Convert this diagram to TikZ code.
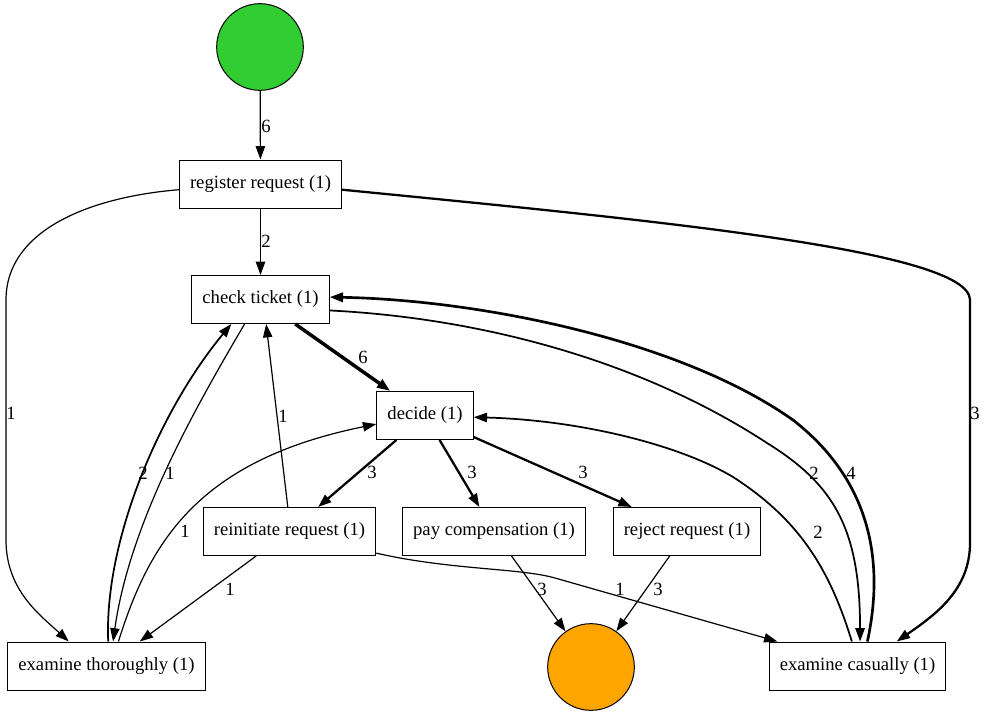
\documentclass[tikz,border=0pt]{standalone}
\usepackage{fontspec}
\setmainfont{Liberation Serif}
\usetikzlibrary{arrows.meta,positioning}
\definecolor{startgreen}{HTML}{32CD32}
\definecolor{endorange}{HTML}{FFA500}

\begin{document}
\begin{tikzpicture}[
  x=0.75pt, y=-0.75pt,
  act/.style={draw, rectangle, line width=0.75pt, fill=white, minimum height=36pt,
              inner xsep=8pt, inner ysep=4pt},
  place/.style={draw, circle, line width=0.75pt, minimum size=65pt, inner sep=0pt},
  arr/.style={-{Triangle[length=10pt,width=7pt]}, line width=0.9pt},
  f2/.style={line width=1.3pt},
  f3/.style={line width=1.7pt},
  f4/.style={line width=2pt},
  f6/.style={line width=2.6pt},
  lbl/.style={inner sep=0pt},
  font=\fontsize{14}{16}\selectfont
]
\fill[white] (0,0) rectangle (986,718);
\useasboundingbox (0,0) rectangle (986,718);

\node[place, fill=startgreen] (start)    at (260,47)    {};
\node[act]                    (register) at (260.5,184) {register request (1)};
\node[act]                    (check)    at (260.5,299.5) {check ticket (1)};
\node[act]                    (decide)   at (425,415.5) {decide (1)};
\node[act]                    (reinit)   at (289.5,531.5) {reinitiate request (1)};
\node[act]                    (pay)      at (494,531.5) {pay compensation (1)};
\node[act]                    (reject)   at (687,531.5) {reject request (1)};
\node[act]                    (thorough) at (106.5,666) {examine thoroughly (1)};
\node[act]                    (casual)   at (857.5,666) {examine casually (1)};
\node[place, fill=endorange]  (end)      at (591,667)   {};

\draw[arr] (start) -- (register) node[lbl] at (266,126) {6};
\draw[arr, f2] (register) -- (check) node[lbl] at (266,241) {2};
\draw[arr] (register.184) .. controls (90,197) and (6,230) .. (6,300) -- (6,540)
  .. controls (6,590) and (40,615) .. (thorough.147) node[lbl] at (11,413) {1};
\draw[arr, f3] (register.356) .. controls (650,220) and (970,250) .. (970,300) -- (970,543)
  .. controls (970,590) and (935,615) .. (casual.32) node[lbl] at (975,413) {3};

\draw[arr, f6] (check) -- (decide) node[lbl] at (363,357) {6};
\draw[arr] (check.237) .. controls (200,400) and (130,520) .. (thorough.75) node[lbl] at (170,473) {1};
\draw[arr, f2] (thorough.86) .. controls (104,540) and (160,410) .. (check.220) node[lbl] at (143,473) {2};
\draw[arr] (thorough.64) .. controls (150,540) and (200,460) .. (decide.190) node[lbl] at (185,531) {1};

\draw[arr] (reinit.94) -- (check.283) node[lbl] at (283,416) {1};
\draw[arr] (reinit) -- (thorough) node[lbl] at (230,589) {1};
\draw[arr] (reinit.346) .. controls (450,570) and (520,568) .. (555,578) -- (casual.163)
  node[lbl] at (620,589) {1};

\draw[arr, f3] (decide) -- (reinit) node[lbl] at (372,472) {3};
\draw[arr, f3] (decide) -- (pay) node[lbl] at (472,472) {3};
\draw[arr, f3] (decide) -- (reject) node[lbl] at (583,472) {3};
\draw[arr] (pay) -- (end) node[lbl] at (542,589) {3};
\draw[arr] (reject) -- (end) node[lbl] at (658,589) {3};

\draw[arr, f2] (check.351) .. controls (480,318) and (640,360) .. (767,443)
  .. controls (835,485) and (860,530) .. (casual.84) node[lbl] at (814,473) {2};
\draw[arr, f4] (casual.68) .. controls (885,560) and (870,480) .. (793,420)
  .. controls (680,340) and (480,300) .. (check.2) node[lbl] at (851,473) {4};
\draw[arr, f2] (casual.103) .. controls (830,570) and (800,520) .. (733,477)
  .. controls (680,445) and (580,420) .. (decide.358) node[lbl] at (818,532) {2};

\end{tikzpicture}
\end{document}
